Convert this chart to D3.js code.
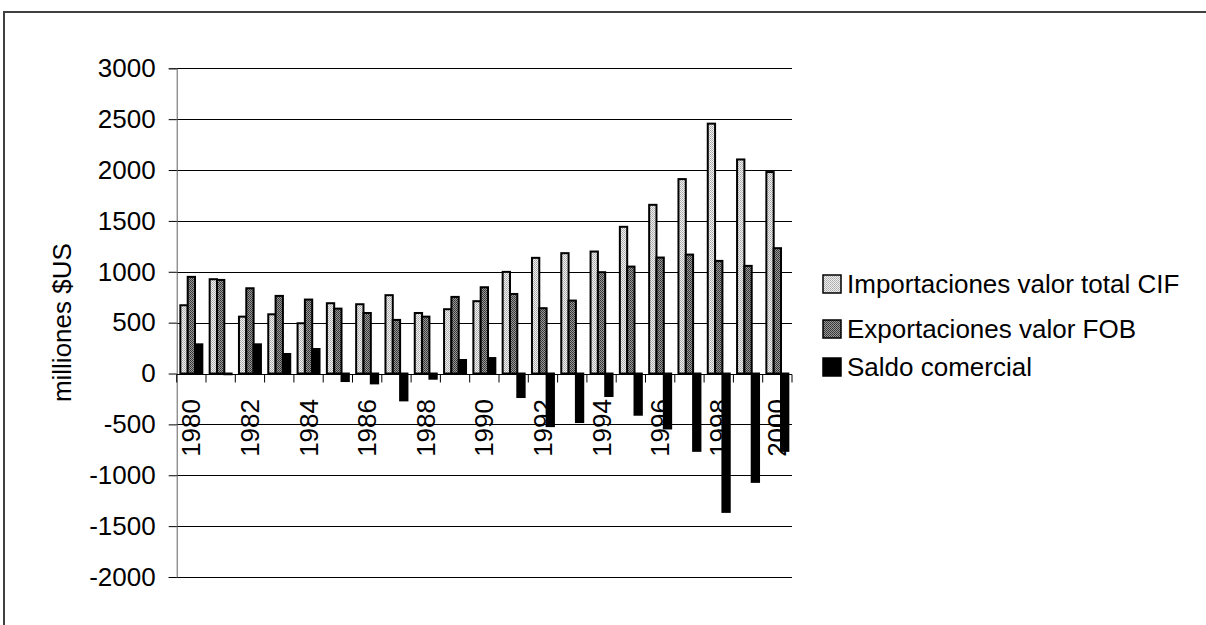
<!DOCTYPE html>
<html>
<head>
<meta charset="utf-8">
<script src="https://cdn.jsdelivr.net/npm/d3@7"></script>
<style>
  html, body { margin: 0; padding: 0; background: #fff; }
  svg { display: block; font-family: "Liberation Sans", Arial, sans-serif; }
</style>
</head>
<body>
<svg id="chart" width="1206" height="625"></svg>
<script>
const years = ["1980","1981","1982","1983","1984","1985","1986","1987","1988","1989","1990",
               "1991","1992","1993","1994","1995","1996","1997","1998","1999","2000"];
const importaciones = [671, 927, 559, 582, 494, 691, 681, 770, 595, 632, 711, 999, 1137, 1183, 1199, 1442, 1658, 1911, 2456, 2104, 1980];
const exportaciones = [950, 920, 838, 763, 727, 638, 595, 527, 559, 753, 848, 782, 642, 717, 996, 1051, 1140, 1169, 1107, 1058, 1232];
const saldo = [287, -7, 287, 192, 241, -74, -97, -264, -51, 133, 152, -231, -517, -477, -221, -405, -540, -760, -1360, -1065, -760];
const seriesNames = ["Importaciones valor total CIF", "Exportaciones valor FOB", "Saldo comercial"];
const yTicks = [-2000, -1500, -1000, -500, 0, 500, 1000, 1500, 2000, 2500, 3000];
const xLabels = ["1980","1982","1984","1986","1988","1990","1992","1994","1996","1998","2000"];
const yTitle = "milliones $US";

const svg = d3.select("#chart");
const FS = 26;

// patterns
const defs = svg.append("defs");
const pLight = defs.append("pattern").attr("id","pLight").attr("width",2).attr("height",2).attr("patternUnits","userSpaceOnUse");
pLight.append("rect").attr("width",2).attr("height",2).attr("fill","#f0f0f0");
pLight.append("rect").attr("width",1).attr("height",1).attr("fill","#a8a8a8");
pLight.append("rect").attr("x",1).attr("y",1).attr("width",1).attr("height",1).attr("fill","#b8b8b8");
const pDark = defs.append("pattern").attr("id","pDark").attr("width",2).attr("height",2).attr("patternUnits","userSpaceOnUse");
pDark.append("rect").attr("width",2).attr("height",2).attr("fill","#9a9a9a");
pDark.append("rect").attr("width",1).attr("height",1).attr("fill","#303030");
pDark.append("rect").attr("x",1).attr("y",1).attr("width",1).attr("height",1).attr("fill","#404040");
const fills = ["url(#pLight)", "url(#pDark)", "#000"];

// outer border
svg.append("rect").attr("x",4).attr("y",12).attr("width",1300).attr("height",700)
  .attr("fill","none").attr("stroke","#404040").attr("stroke-width",2);

const x = d3.scaleBand().domain(years).range([176.7, 792]).padding(0);
const y = d3.scaleLinear().domain([-2000, 3000]).range([577, 68.3]);
const bw = x.bandwidth() / 4;
const x0 = x.range()[0], x1 = x.range()[1];

// gridlines
svg.append("g").selectAll("line").data(yTicks).join("line")
  .attr("x1", x0).attr("x2", x1)
  .attr("y1", d => Math.round(y(d)) + 0.5).attr("y2", d => Math.round(y(d)) + 0.5)
  .attr("stroke", "#000").attr("stroke-width", 1);

// y axis
const yAxis = svg.append("g").attr("transform", `translate(${x0},0)`)
  .call(d3.axisLeft(y).tickValues(yTicks).tickSize(8).tickPadding(13).tickFormat(d => String(d)));
yAxis.select(".domain").attr("stroke", "#606060");
yAxis.selectAll(".tick line").attr("stroke", "#000");
yAxis.selectAll("text").attr("font-size", FS).attr("fill", "#000")
  .attr("font-family", "'Liberation Sans', Arial, sans-serif");

// y title
svg.append("text").attr("transform", `translate(62,${(y(3000)+y(-2000))/2}) rotate(-90)`)
  .attr("text-anchor", "middle").attr("dy", "0.35em").attr("font-size", FS).text(yTitle);

// x labels (drawn before bars; bars overlap them)
svg.append("g").selectAll("text").data(xLabels).join("text")
  .attr("transform", d => `translate(${x(d) + x.bandwidth()/2},399) rotate(-90)`)
  .attr("text-anchor", "end").attr("dy", "0.35em").attr("font-size", FS).text(d => d);

// bars
const seriesData = [importaciones, exportaciones, saldo];
seriesData.forEach((vals, si) => {
  svg.append("g").selectAll("rect").data(vals.map((v, i) => ({v, year: years[i]}))).join("rect")
    .attr("x", d => x(d.year) + bw/2 + si*bw)
    .attr("width", bw)
    .attr("y", d => y(Math.max(0, d.v)))
    .attr("height", d => Math.abs(y(d.v) - y(0)))
    .attr("fill", fills[si])
    .attr("stroke", "#000").attr("stroke-width", 2);
});

// x axis line and ticks
const y0 = Math.round(y(0)) + 0.5;
svg.append("line").attr("x1", x0).attr("x2", x1).attr("y1", y0).attr("y2", y0).attr("stroke", "#000");
svg.append("g").selectAll("line").data(d3.range(years.length + 1)).join("line")
  .attr("x1", i => x0 + i * x.step()).attr("x2", i => x0 + i * x.step())
  .attr("y1", y0).attr("y2", y0 + 8).attr("stroke", "#000");

// legend
const legRows = [284, 329, 367];
const leg = svg.append("g");
seriesNames.forEach((name, i) => {
  leg.append("rect").attr("x", 823).attr("y", legRows[i] - 9).attr("width", 18).attr("height", 18)
    .attr("fill", fills[i]).attr("stroke", "#000").attr("stroke-width", 1.5);
  leg.append("text").attr("x", 847).attr("y", legRows[i]).attr("dy", "0.35em")
    .attr("font-size", FS).text(name);
});
</script>
</body>
</html>
